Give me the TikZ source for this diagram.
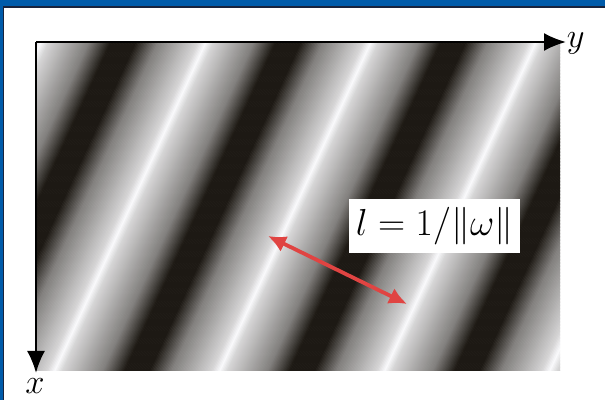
\RequirePackage{fix-cm}
\documentclass[tikz,border=0pt]{standalone}
\usetikzlibrary{arrows.meta}
\definecolor{slideblue}{RGB}{0,91,170}
\definecolor{framedark}{RGB}{25,35,60}
\definecolor{gratdark}{RGB}{20,16,10}
\definecolor{gratlight}{RGB}{250,250,252}
\definecolor{arrred}{RGB}{224,68,66}

\begin{document}
\begin{tikzpicture}[x=0.5pt,y=-0.5pt,
                   axis/.style={line width=1.1pt,-{Latex[length=11pt,width=9pt]}},
                   lab/.style={inner sep=0pt,font=\fontsize{17.3}{21}\selectfont}]
\useasboundingbox (0,0) rectangle (605,400);
\fill[white] (0,0) rectangle (605,400);
\fill[slideblue] (0,0) rectangle (605,6);
\fill[slideblue] (0,0) rectangle (3,400);
\draw[framedark,line width=0.7pt] (3.7,400) -- (3.7,6.9) -- (605,6.9);

\begin{scope}
\clip (36,42) rectangle (560,371);
\foreach \i [evaluate=\i as \xa using 36+1.5*\i] in {0,...,450}{
  \pgfmathsetmacro\u{mod(\xa+0.75-206+1650,165)}
  \pgfmathsetmacro\d{min(\u,165-\u)}
  \pgfmathsetmacro\g{\d<8 ? 100-2*\d : (\d<48 ? 84-0.9*(\d-8) : (\d<70 ? 48-2*(\d-48) : 4))}
  \fill[gratlight!\g!gratdark] (\xa,42) -- ++(2,0) -- ++(-151.3,329) -- ++(-2,0) -- cycle;
}
\end{scope}

\coordinate (o) at (36,42);
\coordinate (yend) at (566,42);
\coordinate (xend) at (36,373);
\draw[axis] (o) -- (yend);
\draw[axis] (o) -- (xend);
\node[lab,anchor=west] (ylab) at (566.5,43.5) {$y$};
\node[lab,anchor=north] (xlab) at (35,378) {$x$};

\coordinate (p) at (268,236);
\coordinate (q) at (407,304);
\draw[arrred,line width=1.9pt,{Latex[length=9pt,width=8.5pt]}-{Latex[length=9pt,width=8.5pt]}] (p) -- (q);
\node[lab,fill=white,inner xsep=3.5pt,inner ysep=4pt,font=\fontsize{18.8}{23}\selectfont] (len) at (434.5,226) {$l=1/\|\omega\|$};
\end{tikzpicture}
\end{document}
